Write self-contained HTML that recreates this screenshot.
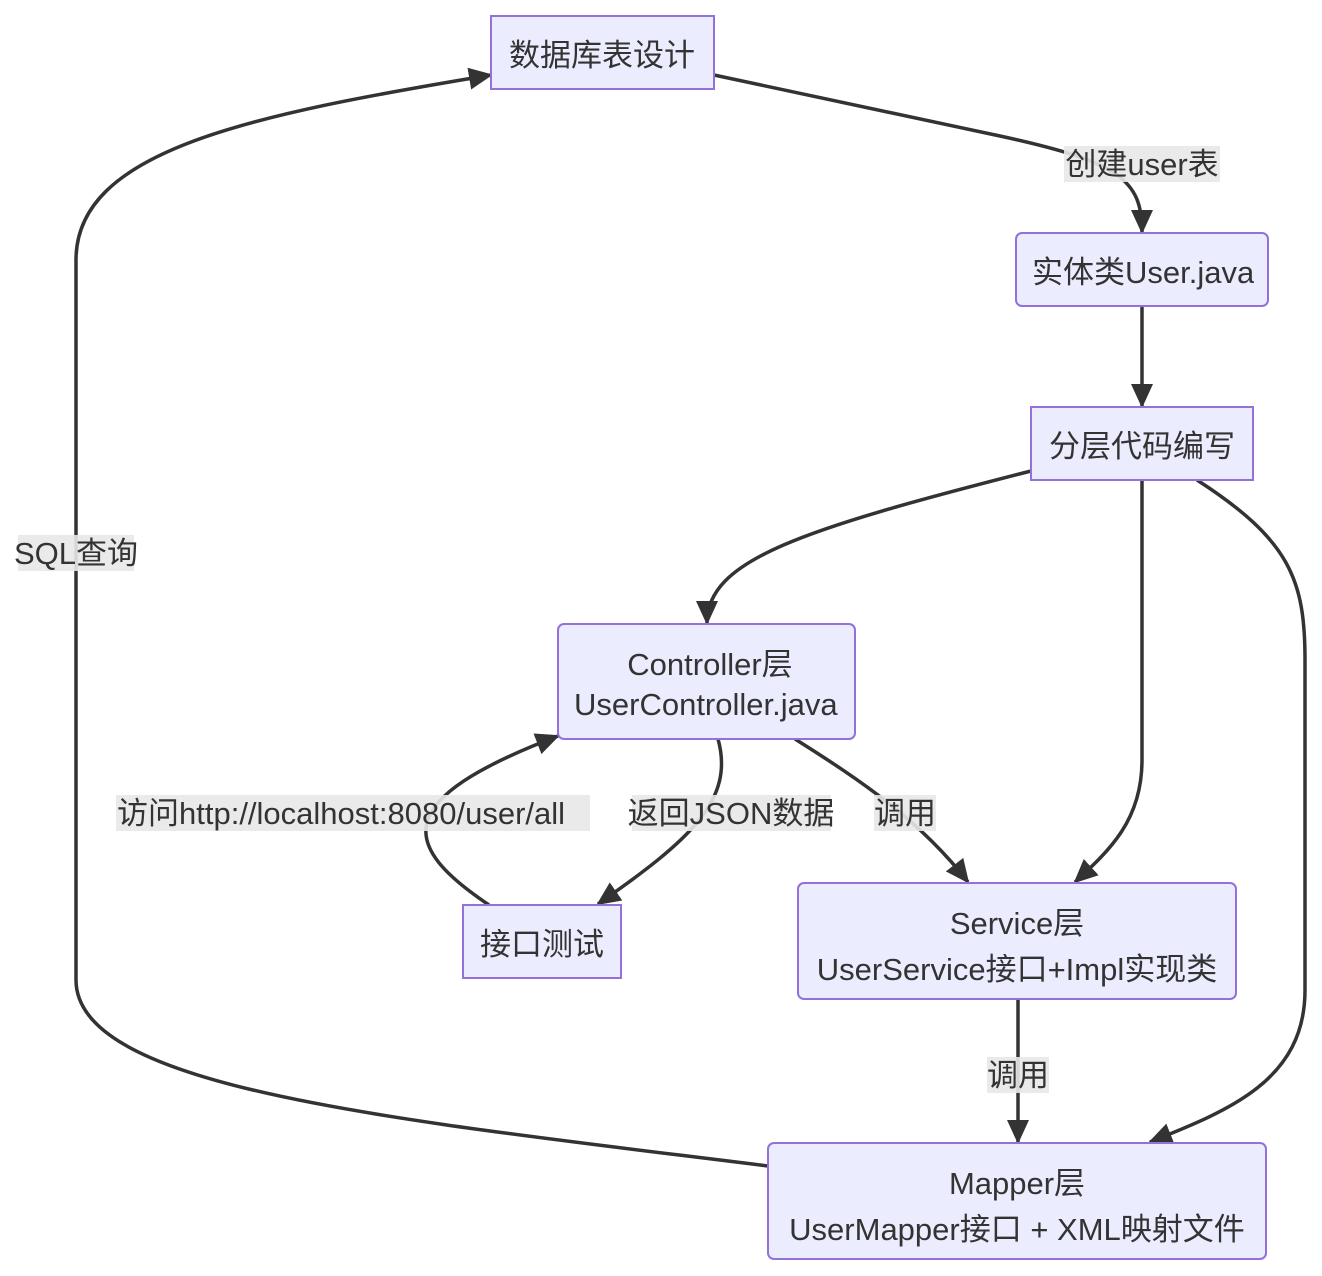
<!DOCTYPE html>
<html><head><meta charset="utf-8"><style>
html,body{margin:0;padding:0;background:#fff;}
svg{display:block}
text{font-family:"Liberation Sans","Noto Sans CJK SC",sans-serif;fill:#333;}
.n{fill:#ECECFF;stroke:#9370DB;stroke-width:2}
.e{fill:none;stroke:#333;stroke-width:3.5}
.lb{fill:#e8e8e8;opacity:0.9}
</style></head><body>
<svg width="1322" height="1276" viewBox="0 0 1322 1276" xmlns="http://www.w3.org/2000/svg">
<defs>
<marker id="b" viewBox="0 0 24 24" refX="22" refY="12" markerWidth="24" markerHeight="24" markerUnits="userSpaceOnUse" orient="auto">
<path d="M0,1 L24,12 L0,23 z" fill="#333"/>
</marker>
</defs>

<!-- edges -->
<path class="e" marker-end="url(#b)" d="M714,75 L1000,136 C1120,162 1142,180 1142,232"/>
<path class="e" marker-end="url(#b)" d="M1142,306 L1142,406"/>
<path class="e" marker-end="url(#b)" d="M1031,471 C800,530 707,560 707,623"/>
<path class="e" marker-end="url(#b)" d="M1142,480 L1142,760 C1142,820 1110,850 1075,882"/>
<path class="e" marker-end="url(#b)" d="M1197,480 C1290,540 1305,580 1305,660 L1305,990 C1305,1080 1230,1110 1150,1142"/>
<path class="e" marker-end="url(#b)" d="M795,739 C860,780 920,820 968,882"/>
<path class="e" marker-end="url(#b)" d="M718,739 C735,800 690,840 598,904"/>
<path class="e" marker-end="url(#b)" d="M489,905 C400,845 390,800 558,736"/>
<path class="e" marker-end="url(#b)" d="M1018,999 L1018,1142"/>
<path class="e" marker-end="url(#b)" d="M768,1166 C400,1120 76,1090 76,980 L76,260 C76,150 250,115 491,75"/>

<!-- edge labels -->
<rect class="lb" x="1064" y="146" width="156" height="36"/>
<text x="1142" y="175" font-size="31" text-anchor="middle">创建user表</text>
<rect class="lb" x="18" y="535" width="116" height="36"/>
<text x="76" y="564" font-size="31" text-anchor="middle">SQL查询</text>
<rect class="lb" x="116" y="795" width="474" height="36"/>
<svg x="116" y="790" width="474" height="46"><text x="1" y="34" font-size="31">访问http://localhost:8080/user/all</text></svg>
<rect class="lb" x="632" y="795" width="199" height="36"/>
<text x="731" y="824" font-size="31" text-anchor="middle">返回JSON数据</text>
<rect class="lb" x="874" y="795" width="62" height="36"/>
<text x="905" y="824" font-size="31" text-anchor="middle">调用</text>
<rect class="lb" x="987" y="1057" width="62" height="36"/>
<text x="1018" y="1086" font-size="31" text-anchor="middle">调用</text>

<!-- nodes -->
<rect class="n" x="491" y="16" width="223" height="73"/>
<text x="602" y="66" font-size="31" text-anchor="middle">数据库表设计</text>

<rect class="n" x="1016" y="233" width="252" height="73" rx="6"/>
<svg x="1016" y="233" width="238" height="73"><text x="16" y="50" font-size="31">实体类User.java</text></svg>

<rect class="n" x="1031" y="407" width="222" height="73"/>
<text x="1142" y="457" font-size="31" text-anchor="middle">分层代码编写</text>

<rect class="n" x="558" y="624" width="297" height="115" rx="6"/>
<text x="710" y="675" font-size="31" text-anchor="middle">Controller层</text>
<svg x="558" y="680" width="283" height="50"><text x="16" y="35" font-size="31">UserController.java</text></svg>

<rect class="n" x="463" y="905" width="158" height="73"/>
<text x="542" y="955" font-size="31" text-anchor="middle">接口测试</text>

<rect class="n" x="798" y="883" width="438" height="116" rx="6"/>
<text x="1017" y="934" font-size="31" text-anchor="middle">Service层</text>
<text x="1017" y="980" font-size="31" text-anchor="middle">UserService接口+Impl实现类</text>

<rect class="n" x="768" y="1143" width="498" height="116" rx="6"/>
<text x="1017" y="1194" font-size="31" text-anchor="middle">Mapper层</text>
<text x="1017" y="1240" font-size="31" text-anchor="middle">UserMapper接口 + XML映射文件</text>
</svg>
</body></html>
